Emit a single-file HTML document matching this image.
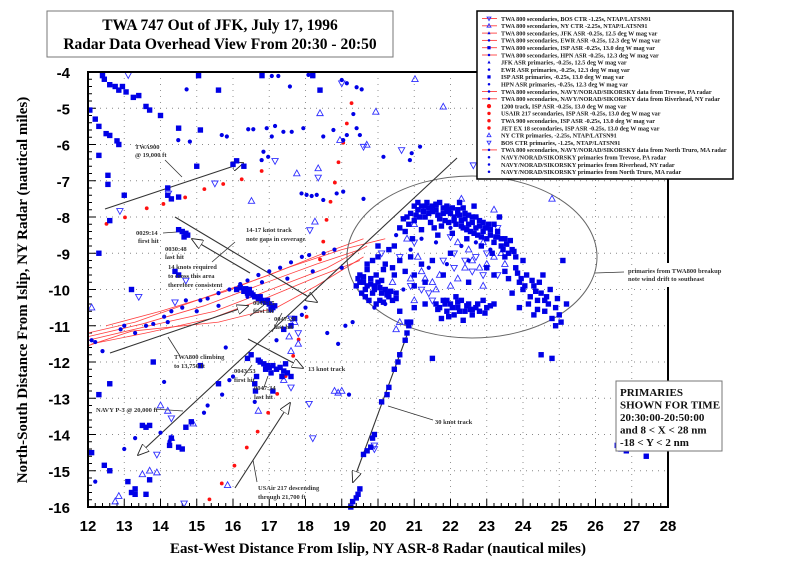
<!DOCTYPE html>
<html><head><meta charset="utf-8"><style>
html,body{margin:0;padding:0;background:#fff;}
svg{display:block;font-family:"Liberation Serif",serif;}
.tk{font-family:"Liberation Sans",sans-serif;font-weight:bold;font-size:15px;}
.an{font-size:6.5px;font-weight:bold;fill:#333;}
.lg{font-size:6.15px;font-weight:bold;fill:#222;}
</style></head><body>
<svg id="chart" width="800" height="572" viewBox="0 0 800 572">
<defs>
<marker id="ah" viewBox="0 0 12 10" refX="11" refY="5" markerWidth="12" markerHeight="10" markerUnits="userSpaceOnUse" orient="auto"><path d="M0,0 L12,5 L0,10 Z" fill="#fff" stroke="#222" stroke-width="0.9"/></marker>
</defs>
</svg>
<script>
// ---- data arrays (data units: nautical miles) ----
const xTicks=[12,13,14,15,16,17,18,19,20,21,22,23,24,25,26,27,28];
const yTicks=[-4,-5,-6,-7,-8,-9,-10,-11,-12,-13,-14,-15,-16];
const squaresX=[12.4,12.45,12.6,12.75,12.85,12.95,13.05,13.25,13.4,13.6,13.7,12.05,12.2,12.3,12.5,12.6,12.8,12.85,12.3,12.55,12.55,14.0,14.5,15.05,15.6,15.1,16.8,18.2,18.4,14.2,14.3,14.5,14.2,13.0,16.0,16.1,16.3,15.0,
14.6,14.7,14.75,14.5,14.65,14.4,14.5,13.2,12.3,12.6,
16.1,16.2,16.3,16.4,16.5,16.6,16.7,16.8,16.9,17.0,17.1,17.15,16.45,16.55,16.75,16.95,17.05,16.35,
16.7,16.75,16.85,16.95,17.0,17.1,17.2,17.3,17.4,17.5,17.6,17.05,16.9,17.35,17.45,16.65,16.6,16.62,
12.1,12.45,12.6,13.1,13.3,13.2,13.3,13.6,13.7,14.25,14.3,14.5,14.6,14.7,14.85,13.5,13.6,13.7,15.6,16.5,16.4,17.4,17.6,17.7,12.3,12.6,13.8,15.1,17.1,
19.25,19.3,19.4,19.45,19.5,19.6,19.7,19.8,19.85,19.9,20.1,20.25,20.3,20.45,20.55,20.6,20.75,20.8,20.85,20.9,24.5,26.6,26.7,26.85,27.4,21.5,24.8,
20.6,20.8,20.9,21.0,21.1,21.2,21.3,21.35,21.4,21.5,21.6,21.7,21.8,21.85,21.9,22.0,22.1,22.15,22.2,22.3,22.35,22.4,22.5,22.55,22.6,22.7,22.75,22.8,22.9,23.0,23.05,23.1,23.2,23.3,23.4,23.5,23.6,23.7,23.8,21.55,21.75,22.05,21.2,20.95,22.45,22.85,23.15,21.65,21.45,22.25,22.65,23.35,
19.5,19.6,19.7,19.8,19.9,20.0,20.1,20.2,20.3,20.4,20.5,19.55,19.75,19.95,20.15,19.4,19.7,19.85,20.0,20.2,20.4,20.6,20.3,20.0,20.45,20.75,20.9,21.0,21.2,21.3,20.6,20.8,21.0,21.3,
21.6,21.7,21.8,21.9,22.0,22.1,22.2,22.3,22.4,22.5,22.6,22.7,22.8,23.0,23.2,21.75,22.35,22.9,22.15,
23.5,23.6,23.8,23.9,24.0,24.1,24.2,24.3,24.4,24.5,24.55,24.6,24.7,24.8,24.9,25.0,25.2,24.3,23.7,23.2,23.9,25.1,24.0,21.0,21.5,22.0,22.5,21.8,23.0];
const squaresY=[-4.1,-4.2,-4.35,-4.4,-4.5,-4.4,-4.55,-4.7,-4.65,-4.95,-5.05,-5.05,-5.3,-5.5,-5.7,-5.75,-5.9,-6.0,-6.3,-6.85,-7.1,-5.2,-5.55,-4.1,-4.5,-5.6,-4.1,-4.1,-4.5,-7.4,-7.5,-7.45,-7.2,-7.4,-6.55,-6.45,-6.6,-6.6,
-8.4,-8.45,-8.5,-8.35,-8.55,-9.5,-9.6,-10.0,-9.0,-8.1,
-10.0,-9.95,-10.05,-10.1,-10.1,-10.2,-10.25,-10.3,-10.35,-10.4,-10.5,-10.45,-10.0,-10.15,-10.2,-10.3,-10.55,-9.98,
-11.95,-12.0,-12.05,-12.1,-12.15,-12.1,-12.2,-12.15,-12.25,-12.3,-12.4,-12.3,-12.2,-12.4,-12.05,-12.4,-12.6,-12.8,
-14.5,-14.85,-15.0,-15.3,-15.5,-15.6,-15.65,-15.65,-15.25,-14.3,-14.1,-14.35,-14.4,-13.8,-13.65,-13.75,-13.8,-13.75,-12.6,-11.8,-11.9,-11.1,-11.0,-10.8,-12.9,-12.6,-12.0,-12.1,-12.8,
-16.0,-15.85,-15.75,-15.65,-15.5,-14.55,-14.45,-14.35,-14.1,-14.0,-13.1,-12.9,-12.7,-12.2,-12.0,-11.8,-11.4,-11.2,-11.0,-10.9,-11.8,-14.3,-14.4,-14.45,-14.6,-11.9,-11.9,
-8.3,-8.0,-7.9,-8.1,-7.8,-7.7,-8.0,-7.6,-7.9,-7.7,-7.8,-7.6,-7.9,-8.1,-7.7,-7.9,-8.0,-8.2,-7.8,-8.1,-8.3,-7.9,-8.2,-8.4,-8.0,-8.3,-8.5,-8.1,-8.4,-8.6,-8.2,-8.5,-8.7,-8.4,-8.8,-8.6,-9.0,-8.9,-9.1,-8.3,-8.25,-8.45,-8.35,-8.6,-8.6,-8.8,-9.0,-8.5,-8.15,-7.6,-7.7,-8.0,
-9.6,-9.8,-9.9,-9.7,-10.0,-9.8,-10.1,-10.0,-10.2,-10.3,-10.1,-10.1,-10.3,-10.4,-10.35,-9.9,-9.3,-9.2,-9.1,-9.3,-9.4,-9.2,-8.9,-8.8,-8.8,-9.5,-9.1,-9.6,-9.3,-9.8,-10.6,-10.9,-10.5,-10.4,
-10.4,-10.5,-10.3,-10.6,-10.4,-10.7,-10.5,-10.3,-10.6,-10.4,-10.7,-10.5,-10.6,-10.5,-10.4,-10.8,-10.85,-10.3,-10.2,
-9.5,-9.7,-9.4,-9.8,-10.0,-9.6,-10.2,-9.9,-10.3,-10.1,-9.6,-10.6,-10.4,-10.8,-11.0,-10.7,-10.4,-10.7,-10.1,-9.6,-10.5,-9.2,-9.2,-9.9,-9.2,-9.0,-9.8,-9.6,-9.4];
// additional dense debris-field primaries
const debrisX=[20.7,20.75,20.85,21.05,21.15,21.25,21.45,21.6,21.65,21.7,21.9,21.95,22.05,22.1,22.25,22.3,22.4,22.45,22.6,22.65,22.8,22.85,22.95,23.1,23.25,23.4,23.45,23.55,23.65,23.75,
21.0,21.1,21.3,21.4,21.5,21.6,21.8,21.95,22.2,22.35,22.5,22.7,22.9,23.0,23.2,23.3,23.5,
19.45,19.6,19.65,19.8,19.9,20.05,20.1,20.25,20.35,20.5,19.5,19.65,19.85,20.05,20.25,20.45,19.95,20.15,19.7,
21.65,21.85,21.95,22.05,22.25,22.45,22.55,22.75,22.95,23.1,21.9,22.2,22.6,
23.95,24.05,24.25,24.35,24.45,24.65,24.75,24.9,25.05,24.15,24.6,23.85,24.4,24.95];
const debrisY=[-8.05,-8.4,-8.2,-7.95,-8.0,-7.85,-7.75,-7.65,-7.95,-8.05,-7.85,-8.15,-7.75,-8.1,-7.95,-8.25,-8.05,-8.35,-8.15,-8.45,-8.25,-8.55,-8.3,-8.35,-8.55,-8.6,-8.9,-8.75,-8.65,-8.95,
-7.7,-7.6,-7.7,-7.75,-7.85,-7.65,-7.75,-7.8,-7.9,-7.75,-7.95,-8.0,-8.15,-8.3,-8.2,-8.55,-9.1,
-9.7,-9.65,-10.0,-9.85,-9.9,-9.95,-9.75,-10.15,-10.05,-10.25,-9.8,-10.2,-10.1,-10.3,-10.1,-9.6,-9.6,-9.45,-9.45,
-10.55,-10.4,-10.75,-10.5,-10.6,-10.45,-10.55,-10.4,-10.65,-10.45,-10.3,-10.35,-10.55,
-9.7,-9.9,-9.75,-10.05,-9.8,-10.2,-10.0,-10.5,-10.9,-10.4,-10.3,-9.55,-10.55,-10.25];
const dotsX=[14.72,14.49,14.81,15.69,15.83,16.42,16.56,16.93,17.07,17.16,17.39,17.62,17.94,18.49,18.77,19.04,19.14,19.41,19.5,20.15,20.88,20.93,21.16,16.79,16.97,16.84,17.89,18.03,18.17,18.31,18.49,18.86,19.04,19.6,17.07,17.25,18.08,18.22,19.0,19.14,19.41,19.55,19.32,17.57,
12.1,12.2,12.9,13.0,13.6,13.8,14.1,14.3,14.6,14.7,15.1,15.3,15.6,15.9,16.2,16.4,16.7,17.0,17.3,17.6,17.9,18.1,18.5,18.8,19.0,16.8,17.5,15.0,14.2,13.3,18.2,16.4,15.6,
12.2,13.0,13.3,14.25,14.0,15.2,15.3,15.7,15.9,16.0,12.4,14.1,15.8,16.6,17.2,18.0,17.9,18.6,18.9,19.1,19.3,19.2,
20.5,20.9,21.2,21.6,22.0,22.3,22.7,23.1,21.4,21.9,22.5,20.2,19.9,20.7];
const dotsY=[-4.48,-5.88,-5.92,-5.74,-5.78,-5.58,-5.58,-5.55,-5.78,-5.49,-5.65,-5.65,-5.55,-5.78,-5.6,-5.88,-5.74,-5.55,-5.74,-6.34,-6.43,-6.24,-6.06,-6.43,-6.34,-6.2,-7.35,-7.39,-7.42,-7.39,-7.53,-7.35,-7.3,-7.5,-4.11,-4.11,-4.08,-4.11,-4.22,-4.31,-4.42,-4.48,-5.16,-4.4,
-11.4,-11.45,-11.1,-11.0,-11.0,-10.95,-10.75,-10.6,-10.5,-10.3,-10.3,-10.25,-10.1,-10.0,-9.85,-9.75,-9.6,-9.5,-9.4,-9.25,-9.1,-9.05,-9.0,-8.9,-9.4,-9.8,-9.7,-10.6,-10.9,-11.2,-9.5,-10.2,-10.45,
-15.3,-14.4,-14.1,-14.2,-13.95,-13.4,-13.2,-12.9,-12.5,-12.4,-11.7,-12.55,-11.6,-13.1,-11.4,-10.5,-10.7,-11.2,-11.5,-11.0,-10.9,-12.9,
-8.5,-8.9,-8.6,-8.7,-8.3,-8.8,-8.7,-8.9,-9.4,-9.3,-9.2,-10.4,-10.5,-10.0];
const triUpX=[18.4,19.94,21.8,21.02,18.35,17.76,16.51,18.26,18.95,19.69,12.75,12.85,13.5,13.7,13.9,15.85,14.3,14.2,14.0,16.7,17.55,17.8,17.7,17.6,17.4,14.9,20.5,20.6,18.8,18.9,19.0,12.1,
21.2,21.3,21.5,21.6,22.0,22.2,22.4,22.6,22.8,23.0,23.2,20.8,21.0,22.2,22.5,23.4,20.4,21.0,22.9,23.2,24.8,22.3,21.1,21.7,22.9,23.5,20.9];
const triUpY=[-5.14,-5.1,-4.96,-4.2,-6.66,-6.8,-7.56,-8.13,-5.88,-6.01,-15.85,-15.7,-15.1,-15.0,-15.05,-15.4,-14.1,-13.35,-13.2,-13.35,-11.3,-11.5,-10.9,-11.7,-12.5,-13.7,-11.1,-10.9,-12.8,-12.85,-12.8,-10.5,
-9.5,-9.7,-9.8,-10.0,-9.9,-9.7,-9.4,-9.2,-9.4,-9.3,-9.1,-8.6,-8.2,-8.7,-8.9,-9.0,-9.8,-10.3,-8.7,-7.8,-7.5,-7.5,-9.1,-9.6,-9.9,-9.3,-9.7];
const triDnX=[13.11,19.0,14.22,12.88,15.5,17.16,18.35,18.12,19.6,22.63,20.65,21.0,21.8,22.1,22.7,23.3,22.9,20.9,21.4,22.1,23.3,22.0,21.5,20.1,13.9,14.65,17.6,18.1,18.2,19.9,19.9,17.8,17.6,14.3,13.4,14.4,14.7,22.4,22.6,23.0,21.2,20.6];
const triDnY=[-4.08,-4.31,-7.35,-7.83,-7.07,-6.45,-6.91,-8.36,-6.06,-6.57,-6.15,-8.7,-9.2,-9.0,-9.1,-8.3,-9.6,-9.9,-10.1,-9.4,-9.6,-8.55,-10.3,-9.0,-14.55,-15.9,-12.7,-13.15,-14.1,-14.4,-14.3,-11.2,-10.8,-13.55,-10.2,-10.35,-9.75,-9.2,-9.5,-9.0,-10.0,-9.1];
const redX=[12.51,13.02,13.62,14.08,14.68,15.21,15.73,16.24,16.79,19.27,19.14,19.04,18.91,18.81,18.69,18.58,18.49,18.4,15.35,15.69,16.04,16.38,16.68,16.97,17.22,17.45,17.66,17.81,18.03];
const redY=[-8.19,-8.01,-7.76,-7.64,-7.46,-7.23,-7.09,-6.96,-6.73,-4.86,-5.42,-5.95,-6.49,-7.05,-7.58,-8.08,-8.68,-9.17,-15.79,-15.35,-14.86,-14.36,-13.92,-13.4,-12.88,-12.39,-11.83,-11.38,-10.75];
const trackLinesX=[[12.0,13.3,15.0,17.0,18.5,19.6],[12.0,13.5,15.2,16.8,18.3,19.5],[12.0,13.7,15.5,17.3,18.6,19.7],[12.1,13.6,15.4,17.0,18.2,19.5],[12.0,13.2,15.6,17.2,18.3,19.6],[12.5,14.0,15.8,17.5,19.0,20.2]];
const trackLinesY=[[-11.2,-10.9,-10.3,-9.6,-9.0,-8.6],[-11.3,-10.95,-10.45,-9.85,-9.3,-8.9],[-11.4,-11.0,-10.6,-9.9,-9.4,-8.8],[-11.5,-11.2,-10.8,-10.2,-9.7,-9.2],[-11.55,-11.15,-10.9,-10.5,-9.9,-9.1],[-11.0,-10.6,-10.05,-9.4,-8.9,-8.6]];
const legendLabels=["TWA 800 secondaries, BOS CTR -1.25s, NTAP/LATSN91","TWA 800 secondaries, NY CTR -2.25s, NTAP/LATSN91","TWA 800 secondaries, JFK ASR -0.25s, 12.5 deg W mag var","TWA 800 secondaries, EWR ASR -0.25s, 12.3 deg W mag var","TWA 800 secondaries, ISP ASR -0.25s, 13.0 deg W mag var","TWA 800 secondaries, HPN ASR -0.25s, 12.3 deg W mag var","JFK ASR primaries, -0.25s, 12.5 deg W mag var","EWR ASR primaries, -0.25s, 12.3 deg W mag var","ISP ASR primaries, -0.25s, 13.0 deg W mag var","HPN ASR primaries, -0.25s, 12.3 deg W mag var","TWA 800 secondaries, NAVY/NORAD/SIKORSKY data from Trevose, PA radar","TWA 800 secondaries, NAVY/NORAD/SIKORSKY data from Riverhead, NY radar","1200 track, ISP ASR -0.25s, 13.0 deg W mag var","USAIR 217 secondaries, ISP ASR -0.25s, 13.0 deg W mag var","TWA 900 secondaries, ISP ASR -0.25s, 13.0 deg W mag var","JET EX 18 secondaries, ISP ASR -0.25s, 13.0 deg W mag var","NY CTR primaries, -2.25s, NTAP/LATSN91","BOS CTR primaries, -1.25s, NTAP/LATSN91","TWA 800 secondaries, NAVY/NORAD/SIKORSKY data from North Truro, MA radar","NAVY/NORAD/SIKORSKY primaries from Trevose, PA radar","NAVY/NORAD/SIKORSKY primaries from Riverhead, NY radar","NAVY/NORAD/SIKORSKY primaries from North Truro, MA radar"];
const legendMarks=["tdR","tuR","tfR","cR","sR","dR","tf","c","s","d","dR","dR","rs","rd","rd","rd","tu","td","dR","d","d","d"];

// ---- scales ----
const L=88,R=668,T=72,B=507;
const sx=v=>L+(v-12)*(R-L)/16;
const sy=v=>T+(-4-v)*(B-T)/12;
const NS="http://www.w3.org/2000/svg";
const svg=document.getElementById('chart');
function mk(tag,attrs,parent){const e=document.createElementNS(NS,tag);for(const k in attrs)e.setAttribute(k,attrs[k]);(parent||svg).appendChild(e);return e;}
function txt(x,y,s,cls,parent,anchor){const e=mk('text',{x:x,y:y,class:cls||'an','text-anchor':anchor||'start'},parent);e.textContent=s;return e;}

// title
const tg=mk('g',{});


mk('rect',{x:47,y:11,width:346,height:46,fill:'#fff',stroke:'#777','stroke-width':1},tg);
const t1=txt(220,30,'TWA 747 Out of JFK, July 17, 1996','',tg,'middle');t1.setAttribute('style','font-size:15.5px;font-weight:bold;fill:#000');
const t2=txt(220,49,'Radar Data Overhead View From 20:30 - 20:50','',tg,'middle');t2.setAttribute('style','font-size:15.5px;font-weight:bold;fill:#000');

// grid
const grid=mk('g',{stroke:'#888','stroke-width':0.9,'stroke-dasharray':'1 5'});


xTicks.slice(1,-1).forEach(v=>mk('line',{x1:sx(v),x2:sx(v),y1:T,y2:B},grid));
yTicks.slice(1,-1).forEach(v=>mk('line',{x1:L,x2:R,y1:sy(v),y2:sy(v)},grid));

// ticks & labels
const ax=mk('g',{stroke:'#000','stroke-width':1});


for(let i=0;i<xTicks.length-1;i++){for(let k=0;k<5;k++){const x=sx(xTicks[i]+k*0.2);mk('line',{x1:x,x2:x,y1:B,y2:B-(k?4:8)},ax);}}
for(let i=0;i<yTicks.length-1;i++){for(let k=0;k<5;k++){const y=sy(yTicks[i]-k*0.2);mk('line',{x1:L,x2:L+(k?4:8),y1:y,y2:y},ax);}}
const xl=mk('g',{});


xTicks.forEach(v=>txt(sx(v),531,String(v),'tk',xl,'middle'));
const yl=mk('g',{});


yTicks.forEach(v=>txt(70,sy(v)+6,String(v),'tk',yl,'end'));
const xt=txt(378,553,'East-West Distance From Islip, NY ASR-8 Radar (nautical miles)','',svg,'middle');
xt.setAttribute('style','font-size:15px;font-weight:bold;fill:#000');


const yt=txt(0,0,'North-South Distance From Islip, NY Radar (nautical miles)','',svg,'middle');
yt.setAttribute('style','font-size:15px;font-weight:bold;fill:#000');
yt.setAttribute('transform','translate(27,290) rotate(-90)');



// marker helpers
function shape(t,x,y,p,sz){
  const s=sz||1;
  if(t==='s')return mk('rect',{x:x-2.7*s,y:y-2.7*s,width:5.4*s,height:5.4*s,fill:'#0000e6'},p);
  if(t==='c'||t==='d')return mk('circle',{cx:x,cy:y,r:2.1*s,fill:'#0000e6'},p);
  if(t==='tf')return mk('path',{d:`M${x},${y-3*s}L${x+2.6*s},${y+2*s}L${x-2.6*s},${y+2*s}Z`,fill:'#0000e6'},p);
  if(t==='tu')return mk('path',{d:`M${x},${y-3.5*s}L${x+3.2*s},${y+2.3*s}L${x-3.2*s},${y+2.3*s}Z`,fill:'none',stroke:'#3030ff','stroke-width':0.9},p);
  if(t==='td')return mk('path',{d:`M${x},${y+3.5*s}L${x+3.2*s},${y-2.3*s}L${x-3.2*s},${y-2.3*s}Z`,fill:'none',stroke:'#3030ff','stroke-width':0.9},p);
  if(t==='r')return mk('circle',{cx:x,cy:y,r:1.9*s,fill:'#ff1010'},p);
}

// red track lines
const tl=mk('g',{fill:'none',stroke:'#ff4040','stroke-width':0.8});


trackLinesX.forEach((xs,i)=>{const pl=mk('polyline',{points:xs.map((x,j)=>sx(x)+','+sy(trackLinesY[i][j])).join(' ')},tl);

});

// ellipse & annotations
const an=mk('g',{stroke:'#333','stroke-width':1,fill:'none'});


mk('ellipse',{cx:472,cy:257,rx:125,ry:81,stroke:'#666'},an);
const arrows=[[105,209,243,163],[175,217,317,302],[250,273,192,239],[110,353,248,306],[457,158,138,455],[248,339,303,368],[235,488,290,403],[407,335,353,482]];
arrows.forEach(a=>{const l=mk('line',{x1:a[0],y1:a[1],x2:a[2],y2:a[3],'marker-end':'url(#ah)','stroke-width':1.1},an);

});
const leaders=[[165,160,182,177],[168,337,180,356],[154,409,183,411],[388,406,433,420],[595,273,624,272],[163,233,177,232],[212,262,235,242],[253,460,257,482],[264,305,250,316],[272,332,282,313],[244,376,252,365],[263,390,268,376]];
leaders.forEach(a=>mk('line',{x1:a[0],y1:a[1],x2:a[2],y2:a[3],'stroke-width':0.8},an));

// series
function series(xs,ys,t,name){const g=mk('g',{});


xs.forEach((x,i)=>shape(t,sx(x),sy(ys[i]),g));}
series(redX,redY,'r','red-secondaries');
series(triUpX,triUpY,'tu','ny-ctr-primaries');
series(triDnX,triDnY,'td','bos-ctr-primaries');
series(dotsX,dotsY,'c','asr-primaries');
series(squaresX,squaresY,'s','isp-primaries');
series(debrisX,debrisY,'s','debris-primaries');

// annotation texts
const notes=[[135,149,'TWA900'],[135,157,'@ 19,000 ft'],[136,235,'0029:14'],[138,243,'first hit'],[165,251,'0030:48'],[165,259,'last hit'],[168,269,'14 knots required'],[168,278,'to cross this area'],[168,287,'therefore consistent'],[246,232,'14-17 knot track'],[246,241,'note gaps in coverage'],[253,305,'0043:15'],[253,313,'first hit'],[274,321,'0047:29'],[274,329,'last hit'],[174,359,'TWA800 climbing'],[174,368,'to 13,750 ft'],[308,371,'13 knot track'],[234,373,'0043:53'],[234,382,'first hit'],[254,390,'0047:34'],[254,399,'last hit'],[96,412,'NAVY P-3 @ 20,000 ft'],[258,490,'USAir 217 descending'],[258,499,'through 21,700 ft'],[435,424,'30 knot track']];
const ng=mk('g',{});


notes.forEach(n=>txt(n[0],n[1],n[2],'an',ng));
const pb=mk('g',{});


mk('rect',{x:625,y:265,width:72,height:18,fill:'#fff'},pb);
txt(628,273,'primaries from TWA800 breakup','an',pb);
txt(628,281,'note wind drift to southeast','an',pb);

// frame
const fr=mk('g',{fill:'none',stroke:'#000','stroke-width':2});


mk('path',{d:`M${R},263V${T}H${L}V${B}H${R}V287`},fr);

// primaries box
const pbx=mk('g',{});


mk('rect',{x:616,y:381,width:106,height:70,fill:'#fff',stroke:'#777','stroke-width':1},pbx);
['PRIMARIES','SHOWN FOR TIME','20:30:00-20:50:00','and 8 < X < 28 nm','-18 < Y < 2 nm'].forEach((s,i)=>{const e=txt(620,396+i*12.5,s,'',pbx);e.setAttribute('style','font-size:11px;font-weight:bold;fill:#111');});

// legend
const lg=mk('g',{});


mk('rect',{x:477,y:11,width:256,height:168,fill:'#fff',stroke:'#000','stroke-width':1.5},lg);
legendLabels.forEach((s,i)=>{const y=18.5+i*7.3;
  const row=mk('g',{},lg);
  
  
  const m=legendMarks[i];
  if(m.endsWith('R')){mk('line',{x1:482,x2:497,y1:y,y2:y,stroke:'#ff4040','stroke-width':0.9},row);}
  const base=m.replace('R','');
  if(base==='rs')shape('r',489,y,row,1.1);else if(base==='rd')shape('r',489,y,row,0.9);else shape(base,489,y,row,0.6);
  txt(501,y+2.3,s,'lg',row);});
</script>
</body></html>
